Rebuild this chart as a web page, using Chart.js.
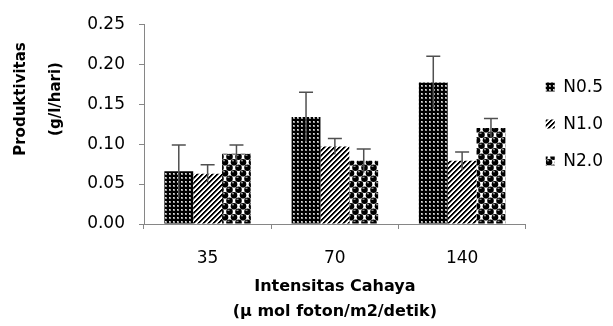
<!DOCTYPE html>
<html>
<head>
<meta charset="utf-8">
<script src="https://cdn.jsdelivr.net/npm/chart.js@4/dist/chart.umd.min.js"></script>
<style>
  html, body { margin: 0; padding: 0; background: #fff; }
  #wrap { width: 613px; height: 326px; position: relative; }
</style>
</head>
<body>
<div id="wrap"><canvas id="prodChart"></canvas></div>
<script>
// Data
const categories = ['35', '70', '140'];
const seriesNames = ['N0.5', 'N1.0', 'N2.0'];
const n05 = [0.066, 0.134, 0.177];
const n10 = [0.063, 0.097, 0.079];
const n20 = [0.088, 0.079, 0.120];
const n05Err = [0.033, 0.031, 0.033];
const n10Err = [0.011, 0.010, 0.011];
const n20Err = [0.011, 0.015, 0.012];

const axisGrey = '#868686';

// Small tiles used as bar fills
function makePattern(w, h, paint) {
    const c = document.createElement('canvas');
    c.width = w;
    c.height = h;
    const g = c.getContext('2d');
    paint(g, w, h);
    return g.createPattern(c, 'repeat');
}

// dark grid with light dots
const dotsPattern = makePattern(4, 4, (g) => {
    g.fillStyle = '#000';
    g.fillRect(0, 0, 4, 4);
    g.fillStyle = '#9a9a9a';
    g.fillRect(1, 1, 2, 2);
    g.fillStyle = '#e0e0e0';
    g.fillRect(1, 1, 1, 1);
});

// "/" diagonal stripes
const stripePattern = makePattern(5, 5, (g, w, h) => {
    const img = g.createImageData(w, h);
    for (let y = 0; y < h; y++) {
        for (let x = 0; x < w; x++) {
            const k = (x + y) % 5;
            const v = k < 2 ? 0 : (k === 2 ? 140 : 255);
            const i = (y * w + x) * 4;
            img.data[i] = img.data[i + 1] = img.data[i + 2] = v;
            img.data[i + 3] = 255;
        }
    }
    g.putImageData(img, 0, 0);
});

// black balls on white, staggered rows
const ballPattern = makePattern(9, 11, (g) => {
    g.fillStyle = '#fff';
    g.fillRect(0, 0, 9, 11);
    const centres = [[4.5, 2.75], [0, 8.25], [9, 8.25], [4.5, 13.75], [0, -2.75], [9, -2.75]];
    centres.forEach(([cx, cy]) => {
        g.fillStyle = '#000';
        g.beginPath();
        g.arc(cx, cy, 3.3, 0, Math.PI * 2);
        g.fill();
        g.fillStyle = '#c0c0c0';
        g.fillRect(cx - 2, cy - 2, 2, 1);
    });
});

// Vertical error bars with a cap on top
const errorBars = {
    id: 'errorBars',
    afterDatasetsDraw(chart) {
        const { ctx, scales: { y } } = chart;
        ctx.save();
        ctx.strokeStyle = '#505050';
        ctx.lineWidth = 1.5;
        chart.data.datasets.forEach((ds, i) => {
            const meta = chart.getDatasetMeta(i);
            meta.data.forEach((bar, j) => {
                const v = ds.data[j];
                const e = ds.errors[j];
                const top = y.getPixelForValue(v + e);
                const bot = y.getPixelForValue(v - e);
                ctx.beginPath();
                ctx.moveTo(bar.x, bot);
                ctx.lineTo(bar.x, top);
                ctx.moveTo(bar.x - 7, top);
                ctx.lineTo(bar.x + 7, top);
                ctx.stroke();
            });
        });
        ctx.restore();
    }
};

// Keep the legend column centred on the plot area, not the whole canvas
const legendToPlot = {
    id: 'legendToPlot',
    afterLayout(chart) {
        const lg = chart.legend;
        if (!lg) return;
        lg.top = chart.chartArea.top;
        lg.bottom = chart.chartArea.bottom;
    }
};

// Two-line rotated y title, placed like the original
const yTitle = {
    id: 'yTitle',
    afterDraw(chart) {
        const { ctx } = chart;
        ctx.save();
        ctx.fillStyle = '#000';
        ctx.font = 'bold 15px "DejaVu Sans"';
        ctx.textAlign = 'center';
        ctx.textBaseline = 'middle';
        ctx.translate(21, 99);
        ctx.rotate(-Math.PI / 2);
        ctx.fillText('Produktivitas', 0, 0);
        ctx.fillText('(g/l/hari)', 0, 35);
        ctx.restore();
    }
};

Chart.defaults.font.family = '"DejaVu Sans", sans-serif';
Chart.defaults.color = '#000';

new Chart(document.getElementById('prodChart'), {
    type: 'bar',
    data: {
        labels: categories,
        datasets: [
            { label: seriesNames[0], data: n05, errors: n05Err, backgroundColor: dotsPattern },
            { label: seriesNames[1], data: n10, errors: n10Err, backgroundColor: stripePattern },
            { label: seriesNames[2], data: n20, errors: n20Err, backgroundColor: ballPattern }
        ]
    },
    options: {
        responsive: true,
        maintainAspectRatio: false,
        animation: false,
        layout: { padding: { top: 15, right: 0, bottom: 0, left: 0 } },
        datasets: {
            bar: {
                borderWidth: 0,
                categoryPercentage: 0.68,
                barPercentage: 1.0
            }
        },
        plugins: {
            legend: {
                position: 'right',
                labels: {
                    boxWidth: 9,
                    boxHeight: 9,
                    padding: 20,
                    font: { size: 17 },
                    color: '#000'
                }
            },
            tooltip: { enabled: false }
        },
        scales: {
            y: {
                min: 0,
                max: 0.25,
                afterFit(scale) { scale.width = 144; },
                ticks: {
                    stepSize: 0.05,
                    padding: 14,
                    font: { size: 17 },
                    callback: (v) => v.toFixed(2)
                },
                grid: {
                    drawOnChartArea: false,
                    drawTicks: true,
                    tickLength: 5,
                    color: axisGrey
                },
                border: { color: axisGrey, width: 1 }
            },
            x: {
                afterFit(scale) { scale.height = 102; },
                ticks: {
                    padding: 19,
                    font: { size: 17 }
                },
                grid: {
                    offset: true,
                    drawOnChartArea: false,
                    drawTicks: true,
                    tickLength: 5,
                    color: axisGrey
                },
                border: { color: axisGrey, width: 1 },
                title: {
                    display: true,
                    text: ['Intensitas Cahaya', '(\u00b5 mol foton/m2/detik)'],
                    font: { size: 16, weight: 'bold', lineHeight: 1.55 },
                    padding: { top: 0, bottom: 2 }
                }
            }
        }
    },
    plugins: [errorBars, legendToPlot, yTitle]
});
</script>
</body>
</html>
